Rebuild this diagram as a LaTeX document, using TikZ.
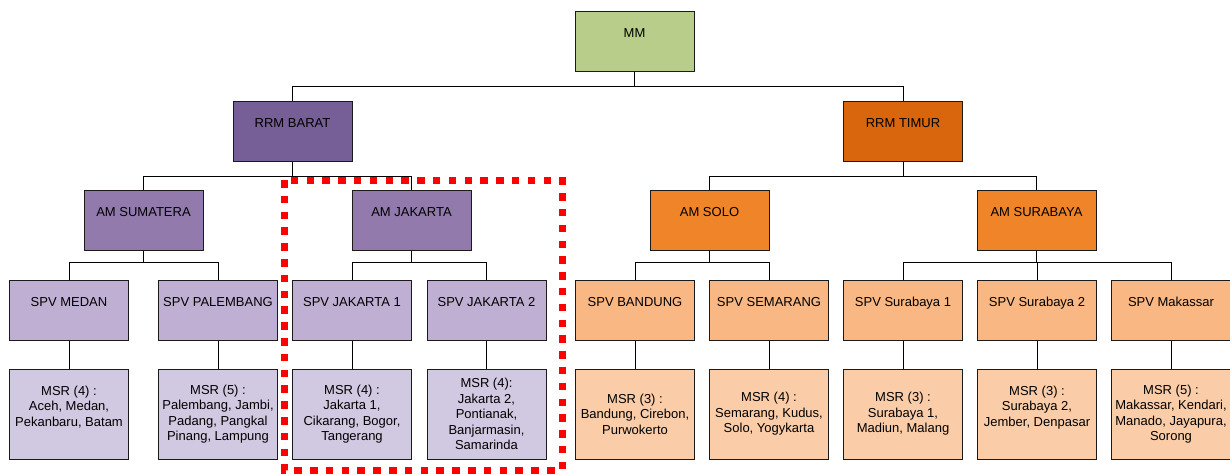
\documentclass[tikz,border=0pt]{standalone}
\usepackage{fontspec}
\setmainfont{Liberation Sans}
\definecolor{bordc}{HTML}{1A1A1A}
\definecolor{cmm}{HTML}{B8CD89}
\definecolor{crrmb}{HTML}{765E96}
\definecolor{camp}{HTML}{927AAC}
\definecolor{cspvp}{HTML}{BFB0D3}
\definecolor{cmsrp}{HTML}{D1C8E1}
\definecolor{crrmt}{HTML}{D9660C}
\definecolor{camo}{HTML}{F08428}
\definecolor{cspvo}{HTML}{F9B783}
\definecolor{cmsro}{HTML}{FACDA8}
\definecolor{dotred}{HTML}{FF0000}
\begin{document}
\begin{tikzpicture}[x=1pt,y=-1pt,
  topbox/.style={draw=bordc, line width=1pt, minimum width=119pt, minimum height=60pt,
    inner xsep=2pt, inner ysep=0pt, text height=26.7pt, text depth=33.3pt,
    font=\fontsize{13}{15.5}\selectfont},
  msrbox/.style={draw=bordc, line width=1pt, minimum width=119pt, minimum height=90pt,
    inner xsep=1pt, inner ysep=0pt, align=center,
    font=\fontsize{13}{15.5}\selectfont},
  conn/.style={draw=black, line width=0.8pt},
  zone/.style={draw=dotred, line width=7pt, dash pattern=on 7.5pt off 8.3pt}
]
\useasboundingbox (0,0) rectangle (1230,474);

% level 0
\node[topbox, fill=cmm] (mm) at (634.5,41) {MM};
% level 1
\node[topbox, fill=crrmb] (rb) at (292.5,131) {RRM BARAT};
\node[topbox, fill=crrmt] (rt) at (903,131) {RRM TIMUR};
% level 2
\node[topbox, fill=camp] (ams) at (143.5,220) {AM SUMATERA};
\node[topbox, fill=camp] (amj) at (411.5,220) {AM JAKARTA};
\node[topbox, fill=camo] (amso) at (709.5,220) {AM SOLO};
\node[topbox, fill=camo] (amsu) at (1036.5,220) {AM SURABAYA};
% level 3
\node[topbox, fill=cspvp] (s1) at (69,310) {SPV MEDAN};
\node[topbox, fill=cspvp] (s2) at (218,310) {SPV PALEMBANG};
\node[topbox, fill=cspvp] (s3) at (352,310) {SPV JAKARTA 1};
\node[topbox, fill=cspvp] (s4) at (486.5,310) {SPV JAKARTA 2};
\node[topbox, fill=cspvo] (s5) at (635,310) {SPV BANDUNG};
\node[topbox, fill=cspvo] (s6) at (769,310) {SPV SEMARANG};
\node[topbox, fill=cspvo] (s7) at (903,310) {SPV Surabaya 1};
\node[topbox, fill=cspvo] (s8) at (1037,310) {SPV Surabaya 2};
\node[topbox, fill=cspvo] (s9) at (1171,310) {SPV Makassar};
% level 4
\node[msrbox, fill=cmsrp] (m1) at (69,414) {MSR (4) :\\Aceh, Medan,\\Pekanbaru, Batam\\~};
\node[msrbox, fill=cmsrp] (m2) at (218,414) {MSR (5) :\\Palembang, Jambi,\\Padang, Pangkal\\Pinang, Lampung};
\node[msrbox, fill=cmsrp] (m3) at (352,414) {MSR (4) :\\Jakarta 1,\\Cikarang, Bogor,\\Tangerang};
\node[msrbox, fill=cmsrp] (m4) at (486.5,414) {MSR (4):\\Jakarta 2,\\Pontianak,\\Banjarmasin,\\Samarinda};
\node[msrbox, fill=cmsro] (m5) at (635,414) {MSR (3) :\\Bandung, Cirebon,\\Purwokerto};
\node[msrbox, fill=cmsro] (m6) at (769,414) {MSR (4) :\\Semarang, Kudus,\\Solo, Yogykarta};
\node[msrbox, fill=cmsro] (m7) at (903,414) {MSR (3) :\\Surabaya 1,\\Madiun, Malang};
\node[msrbox, fill=cmsro] (m8) at (1037,414) {MSR (3) :\\Surabaya 2,\\Jember, Denpasar\\~};
\node[msrbox, fill=cmsro] (m9) at (1171,414) {MSR (5) :\\Makassar, Kendari,\\Manado, Jayapura,\\Sorong};

% connectors
\draw[conn] (mm.south) -- ++(0,15) -| (rb.north);
\draw[conn] (mm.south) -- ++(0,15) -| (rt.north);
\draw[conn] (rb.south) -- ++(0,15) -| (ams.north);
\draw[conn] (rb.south) -- ++(0,15) -| (amj.north);
\draw[conn] (rt.south) -- ++(0,15) -| (amso.north);
\draw[conn] (rt.south) -- ++(0,15) -| (amsu.north);
\draw[conn] (ams.south) -- ++(0,12) -| (s1.north);
\draw[conn] (ams.south) -- ++(0,12) -| (s2.north);
\draw[conn] (amj.south) -- ++(0,12) -| (s3.north);
\draw[conn] (amj.south) -- ++(0,12) -| (s4.north);
\draw[conn] (amso.south) -- ++(0,12) -| (s5.north);
\draw[conn] (amso.south) -- ++(0,12) -| (s6.north);
\draw[conn] (amsu.south) -- ++(0,12) -| (s7.north);
\draw[conn] (amsu.south) -- ++(0,12) -| (s8.north);
\draw[conn] (amsu.south) -- ++(0,12) -| (s9.north);
\foreach \i in {1,...,9} {\draw[conn] (s\i.south) -- (m\i.north);}

% highlighted zone
\draw[zone] (284,180) rectangle (562,470);
\end{tikzpicture}
\end{document}
